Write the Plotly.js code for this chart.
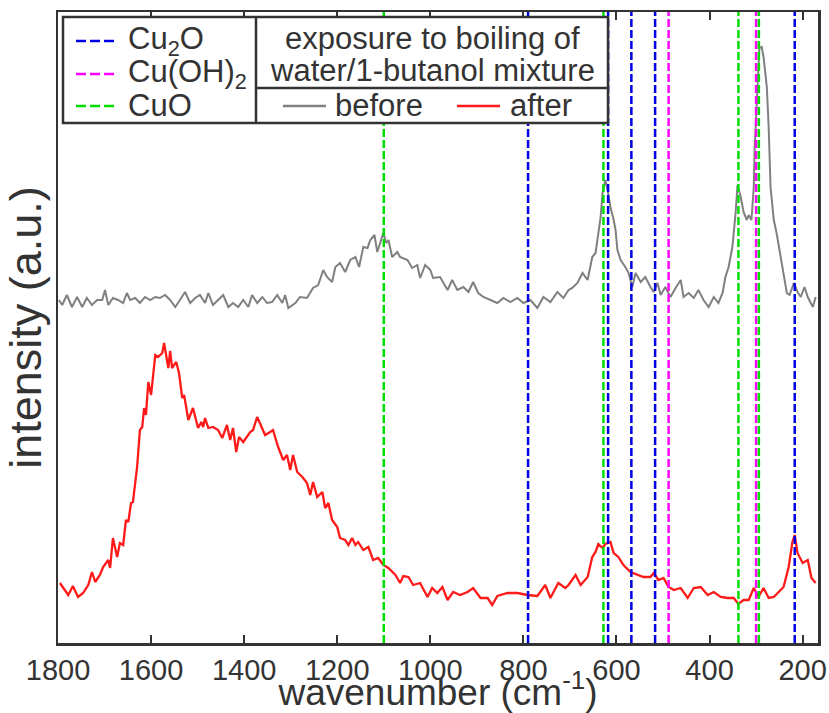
<!DOCTYPE html>
<html><head><meta charset="utf-8">
<script src="https://cdn.plot.ly/plotly-3.0.1.min.js"></script>
<style>html,body{margin:0;padding:0;background:#fff}</style></head>
<body><div id="chart" style="width:829px;height:713px"></div>
<script>
const wnBefore=[1798,1791,1781,1770,1759,1748,1738,1727,1716,1705,1699,1692,1682,1671,1660,1652,1645,1634,1624,1613,1602,1591,1581,1570,1559,1548,1538,1527,1516,1505,1495,1484,1477,1467,1456,1445,1434,1424,1413,1402,1391,1383,1372,1361,1351,1340,1329,1318,1312,1305,1290,1280,1265,1252,1241,1230,1222,1211,1204,1194,1183,1172,1161,1153,1144,1135,1129,1120,1114,1101,1095,1090,1082,1071,1065,1049,1039,1028,1022,1011,1000,994,979,963,953,942,929,918,908,897,886,871,856,843,828,813,800,785,770,757,742,727,714,703,695,684,673,662,652,645,639,634,630,624,619,613,606,602,598,591,581,574,566,559,548,538,527,520,512,505,495,484,473,462,456,445,434,424,413,402,391,381,372,366,359,351,344,340,333,327,320,316,310,305,303,299,295,293,288,284,277,273,269,262,256,249,241,234,228,219,211,204,196,189,178,172];
const intBefore=[343,338,348,336,346,336,345,338,343,343,353,338,345,343,340,350,343,345,340,346,343,346,345,348,343,336,343,351,340,345,348,340,350,338,343,348,336,340,336,343,336,348,340,346,340,341,348,340,348,335,340,346,345,355,358,373,366,361,376,380,371,383,386,376,396,395,403,408,391,410,400,403,386,391,386,383,375,378,365,378,373,365,366,353,363,353,356,351,361,350,346,343,340,345,341,345,340,343,335,346,341,351,345,353,355,360,370,363,386,390,410,426,450,463,453,436,423,413,393,383,376,370,356,370,361,366,356,351,360,348,356,346,355,363,346,350,345,353,343,336,346,340,350,366,376,396,430,458,446,431,423,428,423,456,496,536,573,595,596,586,556,516,456,423,410,390,370,350,348,360,351,346,356,346,336,346];
const wnAfter=[1796,1778,1768,1757,1746,1735,1727,1720,1710,1703,1692,1688,1682,1673,1667,1660,1654,1649,1643,1639,1630,1624,1619,1615,1611,1606,1600,1591,1585,1576,1572,1563,1559,1555,1546,1540,1533,1529,1520,1510,1499,1492,1488,1484,1477,1467,1456,1447,1437,1430,1424,1417,1411,1402,1387,1381,1372,1361,1355,1344,1338,1327,1316,1308,1301,1295,1286,1275,1265,1258,1252,1243,1232,1226,1219,1211,1200,1194,1183,1176,1168,1161,1155,1144,1133,1123,1112,1101,1090,1075,1065,1058,1047,1037,1022,1006,996,985,974,963,951,936,920,908,892,877,867,856,834,813,791,770,753,742,725,710,703,688,677,662,652,645,639,630,624,613,606,596,585,570,555,542,527,520,510,499,488,477,462,447,434,419,404,391,376,361,348,338,327,316,305,295,284,273,262,252,241,230,222,217,211,200,189,181,172];
const intAfter=[60,48,57,46,50,58,71,61,68,76,83,75,105,86,100,98,123,121,140,141,176,213,216,235,228,261,248,288,286,290,300,275,292,275,281,270,245,248,223,235,215,221,216,225,215,216,213,205,218,203,215,191,206,201,211,213,226,215,208,211,213,196,183,188,173,188,171,166,160,148,161,146,151,135,140,123,116,105,103,98,105,98,101,93,96,83,85,78,75,68,60,67,66,58,60,46,55,50,56,43,51,48,51,55,45,45,38,47,50,50,48,47,58,45,60,55,58,68,58,66,86,91,99,95,99,101,90,86,78,71,68,66,66,70,63,65,56,53,55,45,55,56,48,51,46,45,45,39,43,43,55,46,55,45,46,51,56,76,101,108,90,80,83,65,60];
const cu2oLines=[790,618,568,517,217];
const cuohLines=[488,300];
const cuoLines=[1100,628,338,294];
const xTicks=[1800,1600,1400,1200,1000,800,600,400,200];
const legendRefs=['Cu<sub>2</sub>O','Cu(OH)<sub>2</sub>','CuO'];
const legendTitle=['exposure to boiling of','water/1-butanol mixture'];
const seriesNames=['before','after'];

const C={blue:'#0000e6',mag:'#ff00ff',green:'#00dd00',gray:'#808080',red:'#ff1a1a',ink:'#333333'};
const FONT='Liberation Sans, Arial, sans-serif';
// layout helpers (pixel -> paper)
const L=58,R=818,T=12,B=643;
const px=v=>(v-L)/(R-L), py=v=>(B-v)/(B-T);

const traces=[
 {x:wnBefore,y:intBefore,type:'scatter',mode:'lines',name:seriesNames[0],line:{color:C.gray,width:2},showlegend:false},
 {x:wnAfter,y:intAfter,type:'scatter',mode:'lines',name:seriesNames[1],line:{color:C.red,width:2.3},showlegend:false}
];
const shapes=[];
const dash='8px,3px';
const vline=(x,c)=>shapes.push({type:'line',xref:'x',yref:'paper',x0:x,x1:x,y0:0,y1:1,line:{color:c,width:2.5,dash:dash}});
cu2oLines.forEach(x=>vline(x,C.blue));
cuohLines.forEach(x=>vline(x,C.mag));
cuoLines.forEach(x=>vline(x,C.green));
// legend box
shapes.push({type:'rect',xref:'paper',yref:'paper',x0:px(63),x1:px(608),y0:py(123),y1:py(17),fillcolor:'#ffffff',line:{color:C.ink,width:2.5}});
shapes.push({type:'line',xref:'paper',yref:'paper',x0:px(256),x1:px(256),y0:py(123),y1:py(17),line:{color:C.ink,width:2.5}});
shapes.push({type:'line',xref:'paper',yref:'paper',x0:px(256),x1:px(608),y0:py(88),y1:py(88),line:{color:C.ink,width:2.5}});
const rowsL=[41,74,106];
[C.blue,C.mag,C.green].forEach((c,i)=>shapes.push({type:'line',xref:'paper',yref:'paper',x0:px(76),x1:px(117),y0:py(rowsL[i]),y1:py(rowsL[i]),line:{color:c,width:2.5,dash:'10px,4px'}}));
shapes.push({type:'line',xref:'paper',yref:'paper',x0:px(283),x1:px(326),y0:py(106),y1:py(106),line:{color:C.gray,width:2.5}});
shapes.push({type:'line',xref:'paper',yref:'paper',x0:px(457),x1:px(500),y0:py(106),y1:py(106),line:{color:C.red,width:2.5}});

const ann=[];
const tf={family:FONT,size:31,color:C.ink};
legendRefs.forEach((t,i)=>ann.push({text:t,xref:'paper',yref:'paper',x:px(126),y:py(rowsL[i]),xanchor:'left',yanchor:'middle',showarrow:false,font:tf}));
ann.push({text:legendTitle[0],xref:'paper',yref:'paper',x:px(432),y:py(38),xanchor:'center',yanchor:'middle',showarrow:false,font:tf});
ann.push({text:legendTitle[1],xref:'paper',yref:'paper',x:px(432),y:py(70),xanchor:'center',yanchor:'middle',showarrow:false,font:tf});
ann.push({text:seriesNames[0],xref:'paper',yref:'paper',x:px(333),y:py(106),xanchor:'left',yanchor:'middle',showarrow:false,font:tf});
ann.push({text:seriesNames[1],xref:'paper',yref:'paper',x:px(508),y:py(106),xanchor:'left',yanchor:'middle',showarrow:false,font:tf});

const layout={
 width:829,height:713,margin:{l:L,r:829-R,t:T,b:713-B},
 paper_bgcolor:'#fff',plot_bgcolor:'#fff',showlegend:false,
 font:{family:FONT,color:C.ink},
 xaxis:{range:[1800,167],tickvals:xTicks,ticktext:xTicks.map(String),ticks:'inside',ticklen:8,tickwidth:2,tickcolor:C.ink,
   showline:true,linecolor:C.ink,linewidth:2.5,mirror:'ticks',showgrid:false,zeroline:false,
   tickfont:{family:FONT,size:29,color:C.ink},
   title:{text:'wavenumber (cm<sup>-1</sup>)',font:{family:FONT,size:37,color:C.ink},standoff:6}},
 yaxis:{range:[0,631],showticklabels:false,ticks:'',showline:true,linecolor:C.ink,linewidth:2.5,mirror:true,showgrid:false,zeroline:false,
   title:{text:'intensity (a.u.)',font:{family:FONT,size:45,color:C.ink},standoff:0}},
 shapes:shapes,annotations:ann
};
Plotly.newPlot('chart',traces,layout,{displayModeBar:false,staticPlot:true});
</script></body></html>
